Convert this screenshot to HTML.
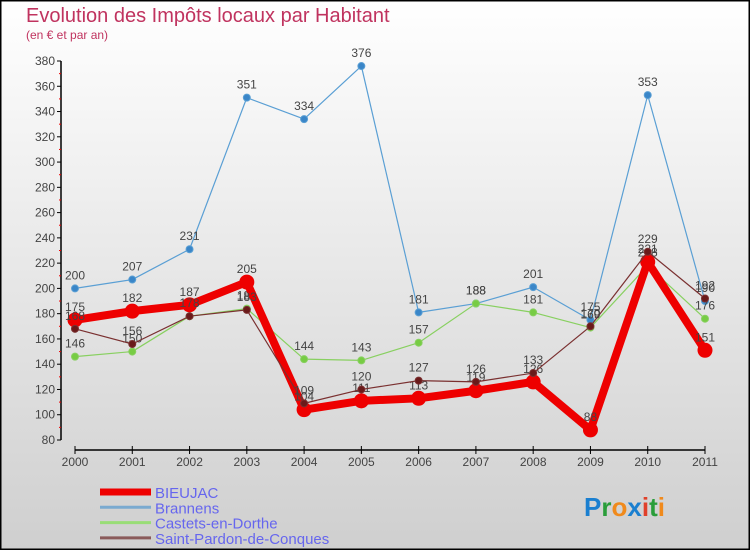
<!DOCTYPE html>
<html><head><meta charset="utf-8">
<style>
html,body{margin:0;padding:0}
body{width:750px;height:550px;overflow:hidden;font-family:"Liberation Sans",sans-serif}
svg{display:block}
</style></head>
<body>
<svg id="chart" width="750" height="550" xmlns="http://www.w3.org/2000/svg">
<defs>
<linearGradient id="bg" x1="0" y1="0" x2="0" y2="1">
<stop offset="0" stop-color="#ffffff"/><stop offset="1" stop-color="#cfcfcf"/>
</linearGradient>
</defs>
<rect x="0.5" y="0.5" width="749" height="549" fill="url(#bg)" stroke="#000" stroke-width="2"/>
<text x="26" y="22" font-size="20" fill="#c0335f">Evolution des Impôts locaux par Habitant</text>
<text x="26" y="39" font-size="12" fill="#c0335f">(en € et par an)</text>
<g id="axes"></g>
<g id="series"></g>
<g id="legend"></g>
<text x="584" y="516" font-size="26" font-weight="bold"><tspan fill="#1a7fd0">P</tspan><tspan fill="#2a9d3a">r</tspan><tspan fill="#f08a1c">o</tspan><tspan fill="#1a7fd0">x</tspan><tspan fill="#e0402a">i</tspan><tspan fill="#2a9d3a">t</tspan><tspan fill="#f08a1c">i</tspan></text>
</svg>
<script>
const years = [2000,2001,2002,2003,2004,2005,2006,2007,2008,2009,2010,2011];
const bieujac = [175,182,187,205,104,111,113,119,126,88,221,151];
const brannens = [200,207,231,351,334,376,181,188,201,175,353,190];
const castets = [146,150,178,184,144,143,157,188,181,169,218,176];
const pardon = [168,156,178,183,109,120,127,126,133,170,229,192];
const yTicks = [80,100,120,140,160,180,200,220,240,260,280,300,320,340,360,380];
const seriesNames = ["BIEUJAC","Brannens","Castets-en-Dorthe","Saint-Pardon-de-Conques"];

const NS="http://www.w3.org/2000/svg";
const x = i => 75 + i*(705-75)/(years.length-1);
const y = v => 440 - (v-80)*(440-61)/(380-80);
function mk(tag, attrs, parent, txt){const e=document.createElementNS(NS,tag);for(const k in attrs)e.setAttribute(k,attrs[k]);if(txt!==undefined)e.textContent=txt;parent.appendChild(e);return e;}
const axes=document.getElementById('axes');
const yl=mk('line',{x1:61,y1:61,x2:61,y2:440,stroke:'#000','stroke-width':1.5},axes);


yTicks.forEach((t,i)=>{
  const tk=mk('line',{x1:57,y1:y(t),x2:61,y2:y(t),stroke:'#000'},axes);
  
  
  const lb=mk('text',{x:55,y:y(t)+4,'font-size':12,'text-anchor':'end',fill:'#444'},axes,t);
  
  
  if(i<yTicks.length-1){
    const m=mk('line',{x1:59,y1:y(t+10),x2:61,y2:y(t+10),stroke:'#e00'},axes);
    
    
  }
});
const xl=mk('line',{x1:75,y1:450,x2:705,y2:450,stroke:'#000','stroke-width':1.5},axes);


years.forEach((yr,i)=>{
  const tk=mk('line',{x1:x(i),y1:446,x2:x(i),y2:454,stroke:'#000'},axes);
  
  
  const lb=mk('text',{x:x(i),y:466,'font-size':12,'text-anchor':'middle',fill:'#444'},axes,yr);
  
  
});
const ser=document.getElementById('series');
function draw(vals,color,width,r,dot,name){
  const g=mk('g',{},ser);
  
  
  const p=mk('polyline',{points:vals.map((v,i)=>x(i)+','+y(v)).join(' '),fill:'none',stroke:color,'stroke-width':width,'stroke-linejoin':'round'},g);
  
  
  vals.forEach((v,i)=>{
    const c=mk('circle',{cx:x(i),cy:y(v),r:r,fill:dot,stroke:color,'stroke-width':1},g);
    
    
    const t=mk('text',{x:x(i),y:y(v)-9,'font-size':12,'text-anchor':'middle',fill:'#444'},g,v);
    
    
  });
}
draw(brannens,'#5a9fd4',1.2,3.5,'#3a86c8','brannens');
draw(castets,'#88d060',1.2,3.5,'#77cc44','castets');
draw(bieujac,'#ee0000',8,7,'#ee0000','bieujac');
draw(pardon,'#7a3030',1.2,3.5,'#6a1a1a','pardon');
const leg=document.getElementById('legend');
const lc=[['#ee0000',7],['#7aaad0',3],['#99dd77',3],['#8a5a5a',3]];
seriesNames.forEach((n,i)=>{
  const yy=492+i*15.3;
  const l=mk('line',{x1:100,y1:yy,x2:151,y2:yy,stroke:lc[i][0],'stroke-width':lc[i][1]},leg);
  
  
  const t=mk('text',{x:155,y:yy+6,'font-size':15,fill:'#6666ee'},leg,n);
  
  
});
</script>
</body></html>
